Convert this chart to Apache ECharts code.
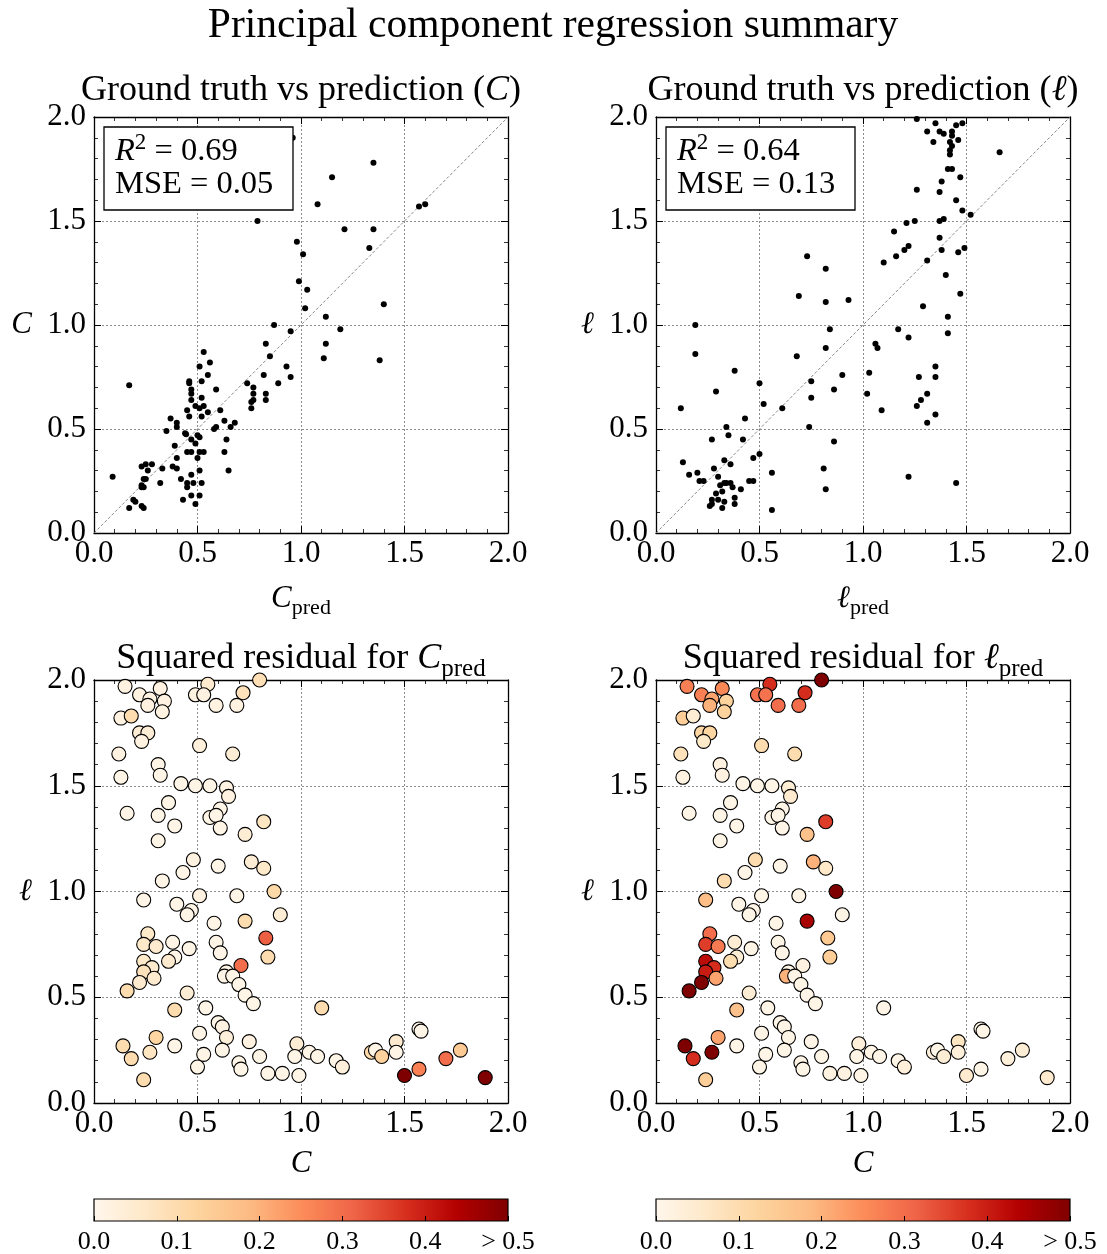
<!DOCTYPE html>
<html>
<head>
<meta charset="utf-8">
<script src="https://cdn.jsdelivr.net/npm/echarts@6/dist/echarts.min.js"></script>
<style>
  html, body { margin: 0; padding: 0; background: #fff; }
  #chart { width: 1107px; height: 1254px; }
</style>
</head>
<body>
<div id="chart"></div>
<script>
// ---- data -------------------------------------------------------------
// axis range shared by all four panels
const AXIS_MIN = 0;
const AXIS_MAX = 2;
const AXIS_STEP = 0.5;
// colour bar ticks (squared residual, clipped at 0.5)
const RESID_TICKS = [0, 0.1, 0.2, 0.3, 0.4, 0.5];
// identity line for the prediction panels
const DIAGONAL = [[0, 0], [2, 2]];

// scores shown in the panel boxes
const SCORE_C = ['0.69', '0.05'];   // R^2, MSE
const SCORE_L = ['0.64', '0.13'];

// [C_pred, C]
const cPredVsTrue = [
  [1.02,1.08],[0.87,1.00],[0.95,0.97],[0.83,0.91],[0.85,0.85],[0.53,0.87],[0.56,0.82],[0.51,0.80],
  [0.55,0.76],[0.93,0.80],[0.95,0.75],[0.89,0.72],[0.82,0.76],[0.74,0.72],[0.77,0.70],[0.77,0.67],
  [0.83,0.67],[0.83,0.64],[0.77,0.64],[0.76,0.63],[0.76,0.60],[0.17,0.71],[0.46,0.73],[0.46,0.72],
  [0.52,0.73],[0.47,0.69],[0.47,0.67],[0.47,0.64],[0.59,0.69],[0.52,0.65],[0.45,0.59],[0.46,0.56],
  [0.49,0.61],[0.51,0.60],[0.53,0.61],[0.55,0.58],[0.52,0.56],[0.61,0.59],[0.37,0.55],[0.40,0.53],
  [0.40,0.51],[0.35,0.49],[0.44,0.48],[0.445,0.475],[0.63,0.54],[0.68,0.53],[0.66,0.51],[0.59,0.51],
  [0.58,0.50],[0.50,0.47],[0.51,0.46],[0.47,0.45],[0.49,0.43],[0.39,0.42],[0.64,0.45],[0.63,0.39],
  [0.45,0.39],[0.47,0.39],[0.51,0.39],[0.53,0.39],[0.50,0.36],[0.40,0.36],[0.38,0.32],[0.40,0.31],
  [0.51,0.30],[0.65,0.30],[0.33,0.31],[0.28,0.33],[0.25,0.33],[0.23,0.32],[0.26,0.30],[0.24,0.26],
  [0.25,0.26],[0.23,0.23],[0.24,0.22],[0.23,0.22],[0.32,0.24],[0.42,0.26],[0.45,0.24],[0.45,0.22],
  [0.48,0.24],[0.52,0.24],[0.47,0.28],[0.51,0.18],[0.47,0.18],[0.43,0.16],[0.49,0.14],[0.09,0.27],
  [0.19,0.16],[0.20,0.15],[0.17,0.12],[0.23,0.13],[0.24,0.12],
  [0.96,1.90],[1.35,1.78],[1.15,1.71],[1.08,1.58],[1.57,1.57],[1.60,1.58],[0.79,1.50],[1.21,1.46],
  [1.35,1.46],[1.33,1.37],[0.98,1.40],[1.01,1.34],[0.99,1.21],[1.03,1.17],[1.40,1.10],
  [1.12,1.04],[1.19,0.98],[1.12,0.91],[1.11,0.84],[1.38,0.83]
];

// [l_pred, l]
const lPredVsTrue = [
  [0.82,1.11],[0.93,1.12],[0.19,1.00],[0.19,0.86],[0.84,0.98],[0.82,0.89],[0.68,0.85],[0.38,0.78],
  [0.29,0.68],[0.50,0.72],[0.75,0.73],[0.90,0.76],[0.86,0.69],[0.75,0.65],[0.12,0.60],[0.52,0.62],
  [0.61,0.60],[0.43,0.55],[0.34,0.51],[0.35,0.47],[0.27,0.45],[0.42,0.45],[0.74,0.51],[0.86,0.44],
  [0.50,0.38],[0.47,0.36],[0.13,0.34],[0.33,0.35],[0.36,0.33],[0.28,0.31],[0.16,0.28],[0.20,0.29],
  [0.21,0.25],[0.23,0.25],[0.30,0.27],[0.56,0.29],[0.81,0.31],[0.82,0.21],[0.31,0.23],[0.33,0.24],
  [0.36,0.24],[0.37,0.22],[0.34,0.24],[0.32,0.20],[0.29,0.19],[0.41,0.21],[0.45,0.25],[0.47,0.25],
  [0.30,0.16],[0.27,0.16],[0.27,0.14],[0.26,0.13],[0.33,0.15],[0.32,0.12],[0.38,0.17],[0.38,0.14],
  [0.56,0.11],[1.17,0.98],[1.06,0.91],[1.07,0.89],[1.03,0.77],[1.02,0.67],[1.09,0.59],
  [1.47,1.15],[1.29,1.09],[1.41,1.04],[1.22,0.94],[1.41,0.96],[1.35,0.80],[1.35,0.75],[1.27,0.75],
  [1.31,0.67],[1.28,0.64],[1.26,0.61],[1.35,0.57],[1.31,0.53],[1.22,0.27],[1.45,0.24],
  [1.26,1.99],[1.35,1.97],[1.48,1.97],[1.45,1.96],[1.31,1.93],[1.37,1.93],[1.39,1.92],[1.43,1.93],
  [1.43,1.91],[1.46,1.89],[1.34,1.88],[1.42,1.88],[1.43,1.86],[1.42,1.84],[1.42,1.82],[1.66,1.83],
  [1.41,1.75],[1.43,1.75],[1.47,1.71],[1.38,1.69],[1.37,1.64],[1.26,1.65],[1.45,1.60],[1.48,1.55],
  [1.52,1.53],[1.37,1.50],[1.39,1.51],[1.25,1.50],[1.21,1.49],[1.15,1.45],[1.37,1.42],[1.22,1.38],
  [1.20,1.36],[1.16,1.33],[1.38,1.36],[1.46,1.35],[1.49,1.37],[1.10,1.30],[1.31,1.31],[1.40,1.24],
  [0.73,1.33],[0.82,1.27],[0.69,1.14]
];

// ground-truth positions [C, l]
const truthCL = [
  [0.15,1.97],[0.32,1.96],[0.22,1.93],[0.27,1.91],[0.34,1.90],[0.26,1.88],[0.33,1.85],[0.13,1.82],
  [0.18,1.83],[0.55,1.98],[0.49,1.93],[0.53,1.93],[0.72,1.94],[0.80,2.00],[0.59,1.88],[0.69,1.88],
  [0.22,1.75],[0.26,1.75],[0.23,1.71],[0.51,1.69],[0.12,1.65],[0.67,1.65],[0.31,1.60],[0.32,1.55],
  [0.13,1.54],[0.42,1.51],[0.49,1.50],[0.56,1.50],[0.64,1.49],[0.65,1.45],[0.36,1.42],[0.16,1.37],
  [0.31,1.36],[0.61,1.39],[0.56,1.35],[0.59,1.36],[0.61,1.30],[0.82,1.33],[0.39,1.31],[0.73,1.27],
  [0.31,1.24],[0.48,1.15],[0.60,1.12],[0.76,1.14],[0.82,1.11],[0.43,1.09],[0.33,1.05],[0.87,1.00],
  [0.24,0.96],[0.51,0.98],[0.69,0.98],[0.40,0.94],[0.47,0.91],[0.45,0.89],[0.58,0.85],[0.73,0.86],
  [0.90,0.89],[0.26,0.80],[0.24,0.75],[0.30,0.74],[0.38,0.76],[0.46,0.73],[0.59,0.76],[0.61,0.71],
  [0.83,0.78],[0.84,0.69],[0.24,0.67],[0.39,0.69],[0.36,0.67],[0.28,0.64],[0.24,0.62],[0.29,0.59],
  [0.22,0.57],[0.16,0.53],[0.71,0.65],[0.64,0.62],[0.63,0.60],[0.67,0.60],[0.70,0.56],[0.73,0.51],
  [0.45,0.52],[0.77,0.47],[0.39,0.44],[0.54,0.45],[1.10,0.45],[0.60,0.38],[0.62,0.36],[0.64,0.31],
  [0.51,0.33],[0.30,0.31],[0.14,0.27],[0.39,0.27],[0.75,0.29],[0.27,0.24],[0.18,0.21],[0.53,0.23],
  [0.62,0.25],[0.80,0.22],[0.50,0.17],[0.70,0.19],[0.71,0.16],[0.24,0.11],[0.84,0.14],[0.91,0.14],
  [0.98,0.28],[0.97,0.22],[0.99,0.13],[1.04,0.24],[1.08,0.22],[1.17,0.20],[1.20,0.17],[1.34,0.24],
  [1.36,0.25],[1.39,0.22],[1.46,0.29],[1.46,0.24],[1.57,0.35],[1.58,0.34],[1.50,0.13],[1.57,0.16],
  [1.70,0.21],[1.77,0.25],[1.89,0.12]
];

// squared residual of C_pred at each ground-truth point (clipped at 0.5)
const sqResidC = [
  0.02,0.02,0.02,0.02,0.02,0.02,0.02,0.02, 0.10,0.05,0.02,0.02,0.08,0.09,0.02,0.02,
  0.04,0.04,0.02,0.03,0.02,0.04,0.01,0.01, 0.01,0.01,0.01,0.01,0.02,0.02,0.01,0.01,
  0.01,0.01,0.01,0.01,0.01,0.07,0.01,0.04, 0.01,0.02,0.01,0.04,0.06,0.01,0.01,0.11,
  0.01,0.02,0.01,0.01,0.01,0.01,0.01,0.10, 0.04,0.06,0.06,0.05,0.01,0.01,0.01,0.01,
  0.32,0.10,0.06,0.01,0.05,0.05,0.08,0.05, 0.05,0.10,0.30,0.01,0.01,0.01,0.01,0.01,
  0.04,0.01,0.10,0.01,0.10,0.01,0.02,0.03, 0.01,0.12,0.10,0.01,0.02,0.07,0.10,0.01,
  0.01,0.01,0.01,0.01,0.01,0.10,0.01,0.01, 0.04,0.01,0.01,0.01,0.01,0.01,0.03,0.11,
  0.01,0.13,0.05,0.01,0.01,0.01,0.50,0.27, 0.30,0.15,0.50
];

// squared residual of l_pred at each ground-truth point (clipped at 0.5)
const sqResidL = [
  0.27,0.26,0.27,0.22,0.13,0.20,0.13,0.14, 0.04,0.38,0.29,0.29,0.38,0.50,0.30,0.30,
  0.12,0.12,0.06,0.10,0.08,0.10,0.02,0.02, 0.02,0.01,0.01,0.01,0.04,0.05,0.01,0.01,
  0.01,0.01,0.01,0.01,0.01,0.36,0.01,0.17, 0.01,0.10,0.01,0.20,0.06,0.01,0.10,0.50,
  0.18,0.01,0.01,0.01,0.01,0.01,0.01,0.45, 0.01,0.30,0.36,0.28,0.04,0.01,0.01,0.01,
  0.15,0.14,0.42,0.04,0.10,0.38,0.40,0.22, 0.50,0.50,0.02,0.01,0.20,0.01,0.01,0.01,
  0.04,0.01,0.17,0.01,0.01,0.01,0.01,0.01, 0.01,0.22,0.50,0.01,0.01,0.50,0.38,0.01,
  0.01,0.01,0.01,0.01,0.01,0.14,0.02,0.02, 0.03,0.01,0.01,0.01,0.01,0.01,0.03,0.03,
  0.01,0.04,0.07,0.03,0.01,0.01,0.05,0.01, 0.03,0.04,0.05
];

// ---- styling ----------------------------------------------------------
const FONT = "'Liberation Serif', 'DejaVu Serif', serif";
const ORRD = ['#fff7ec','#fee8c8','#fdd49e','#fdbb84','#fc8d59','#ef6548','#d7301f','#b30000','#7f0000'];

function hexToRgb(h) {
  const n = parseInt(h.slice(1), 16);
  return [(n >> 16) & 255, (n >> 8) & 255, n & 255];
}
function orrd(t) {
  t = Math.max(0, Math.min(1, t));
  const n = ORRD.length - 1;
  const f = t * n;
  const i = Math.min(n - 1, Math.floor(f));
  const u = f - i;
  const a = hexToRgb(ORRD[i]), b = hexToRgb(ORRD[i + 1]);
  const c = a.map((v, k) => Math.round(v + (b[k] - v) * u));
  return `rgb(${c[0]},${c[1]},${c[2]})`;
}
const RESID_MAX = RESID_TICKS[RESID_TICKS.length - 1];

const PANELS = [
  { left: 94,  top: 117, width: 414, height: 416 },
  { left: 656, top: 117, width: 414, height: 416 },
  { left: 94,  top: 680, width: 414, height: 423 },
  { left: 656, top: 680, width: 414, height: 423 }
];
const CBARS = [
  { left: 94,  top: 1199, width: 414, height: 22 },
  { left: 656, top: 1199, width: 414, height: 22 }
];

const labelRich = {
  i: { fontFamily: FONT, fontStyle: 'italic', fontSize: 31, color: '#000' },
  s: { fontFamily: FONT, fontSize: 22, color: '#000', padding: [19, 0, 0, 0] }
};
const titleRich = {
  i: { fontFamily: FONT, fontStyle: 'italic', fontSize: 36, color: '#000' },
  s: { fontFamily: FONT, fontSize: 25, color: '#000', padding: [21, 0, 0, 0] }
};
const boxRich = {
  i: { fontFamily: FONT, fontStyle: 'italic', fontSize: 32.5, color: '#000' },
  p: { fontFamily: FONT, fontSize: 23, color: '#000', padding: [0, 0, 17, 0] }
};

const frameLine = { show: true, onZero: false, lineStyle: { color: '#000', width: 1.3 } };
const frameTick = { show: true, inside: true, length: 7, lineStyle: { color: '#000', width: 1 } };
const frameMinor = { show: true, splitNumber: 5, length: 4, lineStyle: { color: '#000', width: 0.8 } };
const gridDots = { show: true, lineStyle: { color: '#8c8c8c', type: [2, 2], width: 1 } };
const tickLabelX = {
  show: true, fontFamily: FONT, fontSize: 31, color: '#000', margin: 5,
  hideOverlap: false, formatter: v => v.toFixed(1)
};
const tickLabelY = Object.assign({}, tickLabelX, { margin: 8 });

const xAxes = [], yAxes = [], grids = [];
const names = [
  { x: '{i|C}{s|pred}', y: '{i|C}' },
  { x: '{i|ℓ}{s|pred}', y: '{i|ℓ}' },
  { x: '{i|C}', y: '{i|ℓ}' },
  { x: '{i|C}', y: '{i|ℓ}' }
];

PANELS.forEach((p, g) => {
  grids.push(Object.assign({ containLabel: false, outerBoundsMode: 'none' }, p));
  const base = { type: 'value', gridIndex: g, min: AXIS_MIN, max: AXIS_MAX, interval: AXIS_STEP,
                 axisLine: frameLine, axisTick: frameTick, minorTick: frameMinor };
  xAxes.push(Object.assign({}, base, {
    position: 'bottom', axisLabel: tickLabelX, splitLine: gridDots,
    name: names[g].x, nameLocation: 'middle', nameGap: 45,
    nameTextStyle: { rich: labelRich, fontFamily: FONT, color: '#000', verticalAlign: 'top' }
  }));
  xAxes.push(Object.assign({}, base, {
    position: 'top', axisLabel: { show: false }, splitLine: { show: false }
  }));
  yAxes.push(Object.assign({}, base, {
    position: 'left', axisLabel: tickLabelY, splitLine: gridDots,
    name: names[g].y, nameLocation: 'middle', nameRotate: 0, nameGap: 62,
    nameTextStyle: { rich: labelRich, fontFamily: FONT, color: '#000', align: 'right' }
  }));
  yAxes.push(Object.assign({}, base, {
    position: 'right', axisLabel: { show: false }, splitLine: { show: false }
  }));
});

CBARS.forEach((c, k) => {
  grids.push(Object.assign({ containLabel: false, outerBoundsMode: 'none' }, c));
  xAxes.push({
    type: 'value', gridIndex: 4 + k, min: RESID_TICKS[0], max: RESID_MAX,
    interval: RESID_TICKS[1] - RESID_TICKS[0], z: 10,
    axisLine: { show: false },
    axisTick: { show: true, inside: true, length: 5, lineStyle: { color: '#000', width: 1 } },
    splitLine: { show: false },
    axisLabel: {
      show: true, fontFamily: FONT, fontSize: 26, color: '#000', margin: 8, hideOverlap: false,
      formatter: v => (v >= RESID_MAX - 1e-9 ? '> ' + RESID_MAX.toFixed(1) : v.toFixed(1))
    }
  });
  yAxes.push({ type: 'value', gridIndex: 4 + k, min: 0, max: 1, show: false });
});

// ---- series -----------------------------------------------------------
function diagSeries(g) {
  return {
    type: 'line', xAxisIndex: 2 * g, yAxisIndex: 2 * g, data: DIAGONAL,
    symbol: 'none', silent: true, z: 1,
    lineStyle: { color: '#7a7a7a', width: 0.9, type: [3, 2] }
  };
}
function dotSeries(g, pts) {
  return {
    type: 'scatter', xAxisIndex: 2 * g, yAxisIndex: 2 * g, data: pts,
    symbolSize: 6, itemStyle: { color: '#000', opacity: 1 }, silent: true, clip: true, z: 3
  };
}
function residSeries(g, resid) {
  return {
    type: 'scatter', xAxisIndex: 2 * g, yAxisIndex: 2 * g, clip: true, silent: true, z: 3,
    symbolSize: 14,
    data: truthCL.map((pt, i) => ({
      value: [pt[0], pt[1], resid[i]],
      itemStyle: { color: orrd(resid[i] / RESID_MAX), borderColor: '#000', borderWidth: 1.1, opacity: 1 }
    }))
  };
}
function colorbarSeries(k) {
  const stops = ORRD.map((c, i) => ({ offset: i / (ORRD.length - 1), color: c }));
  return {
    type: 'custom', xAxisIndex: 8 + k, yAxisIndex: 8 + k, silent: true, z: 2,
    data: [[RESID_TICKS[0], 0]],
    renderItem: (params, api) => {
      const a = api.coord([RESID_TICKS[0], 0]);
      const b = api.coord([RESID_MAX, 1]);
      return {
        type: 'rect',
        shape: { x: a[0], y: b[1], width: b[0] - a[0], height: a[1] - b[1] },
        style: {
          fill: new echarts.graphic.LinearGradient(0, 0, 1, 0, stops),
          stroke: '#000', lineWidth: 1.2
        }
      };
    }
  };
}

// ---- titles and score boxes --------------------------------------------
function titleText(cx, cy, text, size, rich) {
  return {
    type: 'text', x: cx, y: cy, z: 100, silent: true,
    style: { text, fontFamily: FONT, fontSize: size, fill: '#000',
             align: 'center', verticalAlign: 'middle', rich }
  };
}
function scoreBox(p, score) {
  const x = p.left + 10, y = p.top + 10;
  return [
    { type: 'rect', z: 100, silent: true,
      shape: { x, y, width: 189, height: 83 },
      style: { fill: '#fff', stroke: '#000', lineWidth: 1.3 } },
    { type: 'text', z: 101, silent: true, x: x + 11, y: y + 24,
      style: { text: '{i|R}{p|2} = ' + score[0], fontFamily: FONT, fontSize: 32.5, fill: '#000',
               align: 'left', verticalAlign: 'middle', rich: boxRich } },
    { type: 'text', z: 101, silent: true, x: x + 11, y: y + 57,
      style: { text: 'MSE = ' + score[1], fontFamily: FONT, fontSize: 32.5, fill: '#000',
               align: 'left', verticalAlign: 'middle' } }
  ];
}
const cx = p => p.left + p.width / 2;

const graphics = [
  titleText(553, 26, 'Principal component regression summary', 41.5),
  titleText(cx(PANELS[0]), 91, 'Ground truth vs prediction ({i|C})', 36, titleRich),
  titleText(cx(PANELS[1]), 91, 'Ground truth vs prediction ({i|ℓ})', 36, titleRich),
  titleText(cx(PANELS[2]), 659, 'Squared residual for {i|C}{s|pred}', 36, titleRich),
  titleText(cx(PANELS[3]), 659, 'Squared residual for {i|ℓ}{s|pred}', 36, titleRich)
].concat(scoreBox(PANELS[0], SCORE_C), scoreBox(PANELS[1], SCORE_L));

const chart = echarts.init(document.getElementById('chart'), null, { renderer: 'canvas' });
chart.setOption({
  backgroundColor: '#fff',
  animation: false,
  grid: grids,
  xAxis: xAxes,
  yAxis: yAxes,
  series: [
    diagSeries(0), dotSeries(0, cPredVsTrue),
    diagSeries(1), dotSeries(1, lPredVsTrue),
    residSeries(2, sqResidC),
    residSeries(3, sqResidL),
    colorbarSeries(0), colorbarSeries(1)
  ],
  graphic: { elements: graphics }
});
</script>
</body>
</html>
